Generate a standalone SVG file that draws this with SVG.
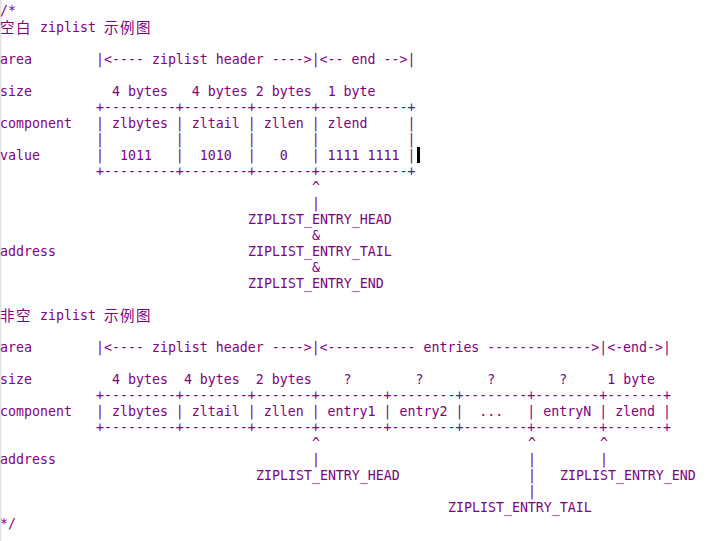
<svg xmlns="http://www.w3.org/2000/svg" width="707" height="541" viewBox="0 0 707 541">
<style>
  text { font-family: "DejaVu Sans Mono", "Liberation Mono", monospace; font-size: 13.288px; fill: #800080; white-space: pre; }
  text.cjk { font-family: "Noto Sans CJK SC", "Noto Sans CJK JP", sans-serif; font-size: 14.5px; }
</style>
<rect x="0" y="0" width="707" height="541" fill="#ffffff"/>
<rect x="0" y="0" width="1.5" height="541" fill="#e3e3e3"/>

<g id="comment">
  <text x="0" y="15" xml:space="preserve">/*</text>
  <text x="0" y="528" xml:space="preserve">*/</text>
</g>

<g id="empty-ziplist">
  <g id="empty-title">
    <text class="cjk" x="0 16" y="33">空白</text>
    <text x="40" y="32">ziplist</text>
    <text class="cjk" x="104 120 136" y="33">示例图</text>
  </g>
  <g id="empty-labels">
    <text x="0" y="64">area</text>
    <text x="0" y="96">size</text>
    <text x="0" y="128">component</text>
    <text x="0" y="160">value</text>
    <text x="0" y="256">address</text>
  </g>
  <g id="empty-area">
    <text x="96" y="64" xml:space="preserve">|&lt;---- ziplist header ----&gt;|&lt;-- end --&gt;|</text>
  </g>
  <g id="empty-size">
    <text x="112" y="96" xml:space="preserve">4 bytes   4 bytes 2 bytes  1 byte</text>
  </g>
  <g id="empty-table">
    <text x="96" y="112" xml:space="preserve">+---------+--------+-------+-----------+</text>
    <text x="96" y="128" xml:space="preserve">| zlbytes | zltail | zllen | zlend     |</text>
    <text x="96" y="144" xml:space="preserve">|         |        |       |           |</text>
    <text x="96" y="160" xml:space="preserve">|  1011   |  1010  |   0   | 1111 1111 |</text>
    <text x="96" y="176" xml:space="preserve">+---------+--------+-------+-----------+</text>
  </g>
  <rect id="cursor" x="417" y="147" width="3" height="16" fill="#000000"/>
  <g id="empty-addresses">
    <text x="248" y="224">ZIPLIST_ENTRY_HEAD</text>
    <text x="312" y="240">&amp;</text>
    <text x="248" y="256">ZIPLIST_ENTRY_TAIL</text>
    <text x="312" y="272">&amp;</text>
    <text x="248" y="288">ZIPLIST_ENTRY_END</text>
  </g>
</g>

<g id="nonempty-ziplist">
  <g id="nonempty-title">
    <text class="cjk" x="0 16" y="321">非空</text>
    <text x="40" y="320">ziplist</text>
    <text class="cjk" x="104 120 136" y="321">示例图</text>
  </g>
  <g id="nonempty-labels">
    <text x="0" y="352">area</text>
    <text x="0" y="384">size</text>
    <text x="0" y="416">component</text>
    <text x="0" y="464">address</text>
  </g>
  <g id="nonempty-area">
    <text x="96" y="352" xml:space="preserve">|&lt;---- ziplist header ----&gt;|&lt;----------- entries -------------&gt;|&lt;-end-&gt;|</text>
  </g>
  <g id="nonempty-size">
    <text x="112" y="384" xml:space="preserve">4 bytes  4 bytes  2 bytes    ?        ?        ?        ?     1 byte</text>
  </g>
  <g id="nonempty-table">
    <text x="96" y="400" xml:space="preserve">+---------+--------+-------+--------+--------+--------+--------+-------+</text>
    <text x="96" y="416" xml:space="preserve">| zlbytes | zltail | zllen | entry1 | entry2 |  ...   | entryN | zlend |</text>
    <text x="96" y="432" xml:space="preserve">+---------+--------+-------+--------+--------+--------+--------+-------+</text>
  </g>
  <g id="nonempty-addresses">
    <text x="256" y="480">ZIPLIST_ENTRY_HEAD</text>
    <text x="560" y="480">ZIPLIST_ENTRY_END</text>
    <text x="448" y="512">ZIPLIST_ENTRY_TAIL</text>
  </g>
</g>

<g id="connectors">
  <text x="312" y="192">^</text>
  <text x="312" y="208">|</text>
  <text x="312" y="448">^</text>
  <text x="312" y="464">|</text>
  <text x="528" y="448">^</text>
  <text x="528" y="464">|</text>
  <text x="528" y="480">|</text>
  <text x="528" y="496">|</text>
  <text x="600" y="448">^</text>
  <text x="600" y="464">|</text>
</g>
</svg>
